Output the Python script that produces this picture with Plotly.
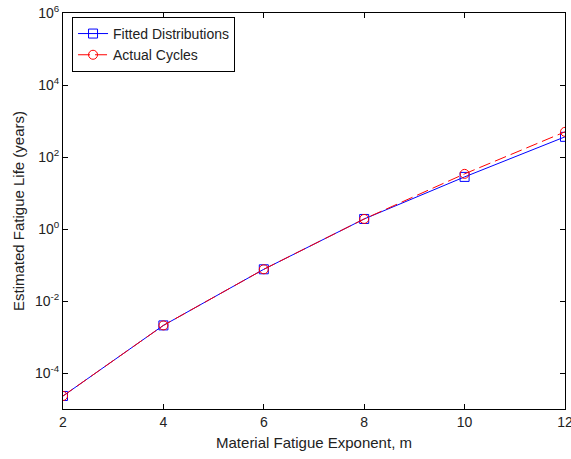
import plotly.graph_objects as go

# Fatigue exponent m and estimated fatigue life (years)
exponent_m = [2, 4, 6, 8, 10, 12]
life_fitted = [2.3e-5, 2.1e-3, 0.076, 1.9, 28, 363]
life_actual = [2.3e-5, 2.1e-3, 0.076, 1.9, 34, 500]

y_tick_vals = [1e-4, 1e-2, 1e0, 1e2, 1e4, 1e6]
y_tick_text = ["10<sup>-4</sup>", "10<sup>-2</sup>", "10<sup>0</sup>",
               "10<sup>2</sup>", "10<sup>4</sup>", "10<sup>6</sup>"]
x_tick_vals = [2, 4, 6, 8, 10, 12]

FAMILY = "Liberation Sans, Arial, sans-serif"
tick_font = dict(family=FAMILY, size=14, color="#222")
title_font = dict(family=FAMILY, size=15, color="#222")
legend_font = dict(family=FAMILY, size=14, color="#222")

fig = go.Figure()
fig.add_trace(go.Scatter(
    x=exponent_m, y=life_fitted, name="Fitted Distributions",
    mode="lines+markers",
    line=dict(color="#0000ff", width=1),
    marker=dict(symbol="square-open", size=9, color="#0000ff", line=dict(width=1)),
))
fig.add_trace(go.Scatter(
    x=exponent_m, y=life_actual, name="Actual Cycles",
    mode="lines+markers",
    line=dict(color="#ff0000", width=1, dash="12px,5px"),
    marker=dict(symbol="circle-open", size=9, color="#ff0000", line=dict(width=1)),
))

axis_common = dict(
    showgrid=False, zeroline=False, showline=True, linecolor="black", linewidth=1,
    mirror="ticks", ticks="inside", ticklen=5, tickcolor="black",
    tickfont=tick_font, automargin=False,
)

fig.update_layout(
    width=571, height=459,
    margin=dict(l=63, r=6, t=13, b=50),
    paper_bgcolor="white", plot_bgcolor="white",
    font=tick_font,
    showlegend=True,
    legend=dict(
        x=0.018, y=0.99, xanchor="left", yanchor="top",
        bordercolor="black", borderwidth=1, bgcolor="white",
        font=legend_font,
        tracegroupgap=0, itemwidth=30,
    ),
    xaxis=dict(
        range=[2, 12], tickvals=x_tick_vals, ticklabeloverflow="allow",
        title=dict(text="Material Fatigue Exponent, m", font=title_font, standoff=8),
        **axis_common,
    ),
    yaxis=dict(
        type="log", range=[-5, 6], tickvals=y_tick_vals, ticktext=y_tick_text,
        title=dict(text="Estimated Fatigue Life (years)", font=title_font, standoff=6),
        **axis_common,
    ),
)

fig.write_html("out.html")
